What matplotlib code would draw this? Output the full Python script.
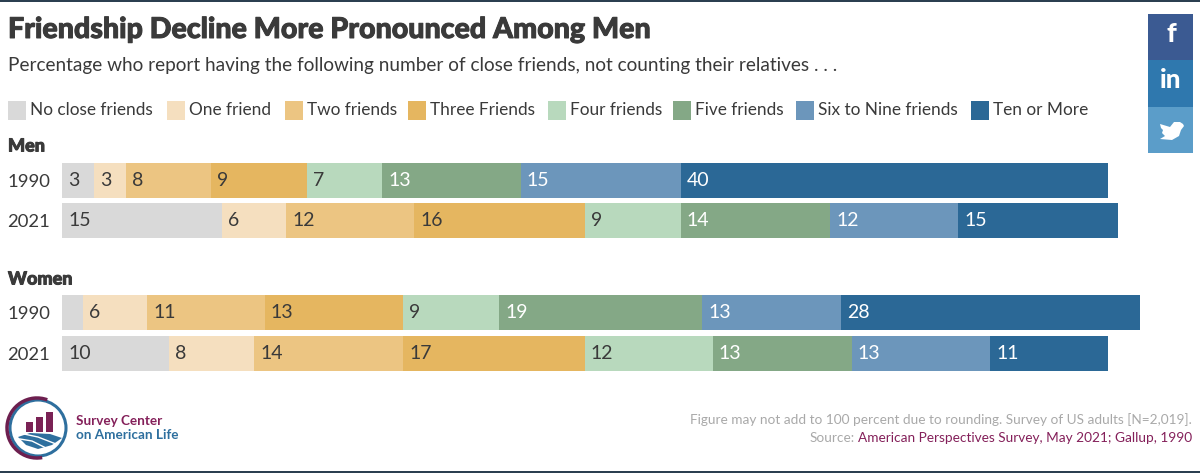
#!/usr/bin/env python3
import matplotlib
matplotlib.use("Agg")
import matplotlib.patheffects as pe
import matplotlib.pyplot as plt
from matplotlib.patches import Arc, Circle, Polygon, Rectangle

W, H = 1200, 473
PX = 72 / 100  # pixels to points at dpi=100

plt.rcParams["font.family"] = ["Lato", "DejaVu Sans"]

# --- data ---
CATEGORIES = ["No close friends", "One friend", "Two friends", "Three Friends",
              "Four friends", "Five friends", "Six to Nine friends", "Ten or More"]
MEN_1990 = [3, 3, 8, 9, 7, 13, 15, 40]
MEN_2021 = [15, 6, 12, 16, 9, 14, 12, 15]
WOMEN_1990 = [2, 6, 11, 13, 9, 19, 13, 28]  # first one is not labelled, read from its width
WOMEN_2021 = [10, 8, 14, 17, 12, 13, 13, 11]
ROWS = [MEN_1990, MEN_2021, WOMEN_1990, WOMEN_2021]
ROW_LABELS = ["1990", "2021", "1990", "2021"]
GROUPS = ["Men", "Women"]

COLORS = ["#d9d9d9", "#f5dfbf", "#ecc582", "#e5b660",
          "#b8d9bd", "#84a886", "#6c96bb", "#2b6896"]
LABEL_COLORS = ["#3a3a3a"] * 5 + ["white"] * 3
TEXT = "#3a3a3a"
MAROON = "#84205a"
BLUE = "#2e6f9e"

fig = plt.figure(figsize=(W / 100, H / 100), dpi=100, facecolor="white")

# furniture layer, in image pixels
bg = fig.add_axes([0, 0, 1, 1])
bg.set_xlim(0, W)
bg.set_ylim(H, 0)
bg.axis("off")

bg.add_patch(Rectangle((0, 0), W, 2, color="#2b3f50", lw=0))
bg.add_patch(Rectangle((0, 471), W, 2, color="#2b3f50", lw=0))

# Lato bold is lighter than the original face, so thicken the title a little
heavy = [pe.withStroke(linewidth=0.7, foreground=TEXT)]
bg.text(8, 30, "Friendship Decline More Pronounced Among Men", fontsize=28.6 * PX,
        fontweight="black", color=TEXT, va="center", ha="left", path_effects=heavy)
bg.text(8, 65, "Percentage who report having the following number of close friends, "
        "not counting their relatives . . .", fontsize=19 * PX, color=TEXT, va="center")

# --- legend ---
SWATCH_X = [8, 167, 285, 408, 548, 673, 796, 971]
for x, name, c in zip(SWATCH_X, CATEGORIES, COLORS):
    bg.add_patch(Rectangle((x, 101), 18, 19, color=c, lw=0))
    bg.text(x + 22, 110, name, fontsize=17.3 * PX, color=TEXT, va="center")

bg.text(8, 146, GROUPS[0], fontsize=18 * PX, fontweight="black", color=TEXT, va="center",
        path_effects=heavy)
bg.text(8, 279, GROUPS[1], fontsize=18 * PX, fontweight="black", color=TEXT, va="center",
        path_effects=heavy)

# --- bars ---
PX_PER_UNIT = 10.67
ax = fig.add_axes([62 / W, 1 - 380 / H, 1100 / W, 230 / H])
ax.set_xlim(0, 1100 / PX_PER_UNIT)
ax.set_ylim(380, 150)
ax.patch.set_alpha(0)
for s in ax.spines.values():
    s.set_visible(False)
ROW_Y = [180.5, 220.5, 312.5, 353]
for y, row in zip(ROW_Y, ROWS):
    left = 0
    for val, c, lc in zip(row, COLORS, LABEL_COLORS):
        ax.barh(y, val, left=left, height=35, color=c, lw=0)
        if val > 2:
            ax.annotate(str(val), (left, y), xytext=(6 * PX, 0), textcoords="offset points",
                        fontsize=19.5 * PX, color=lc, va="center", ha="left")
        left += val
ax.set_xticks([])
ax.set_yticks(ROW_Y, ROW_LABELS)
ax.tick_params(axis="y", length=0, pad=12 * PX, labelsize=18.5 * PX, labelcolor=TEXT)

# --- share buttons ---
bg.add_patch(Rectangle((1148, 14), 45, 46, color="#3b5a92", lw=0))
bg.add_patch(Rectangle((1148, 60), 45, 47, color="#2f78ae", lw=0))
bg.add_patch(Rectangle((1148, 107), 45, 46, color="#5b9dc9", lw=0))
bg.text(1171, 34, "f", fontsize=27 * PX, fontweight="black", color="white", ha="center", va="center")
bg.text(1171, 80, "in", fontsize=26 * PX, fontweight="black", color="white", ha="center", va="center")
bg.add_patch(Polygon([(1160, 124), (1170, 127), (1174, 122), (1180, 122), (1183, 124),
                      (1184, 126), (1181, 130), (1179, 136), (1172, 140), (1160, 139),
                      (1165, 136), (1162, 133), (1163, 130), (1161, 128)],
                     color="white", lw=0))

# --- logo ---
bg.add_patch(Circle((38, 428), 28, fc="none", ec=BLUE, lw=2.2))
bg.add_patch(Arc((37, 428), 60, 60, theta1=80, theta2=290, color="#6d1f4f", lw=2.5))
for x, top in [(26, 422), (36, 417), (46, 412)]:
    bg.add_patch(Rectangle((x, top), 7, 432 - top, color="#7a2255", lw=0))
bg.add_patch(Polygon([(18, 437), (30, 433), (50, 434), (62, 438), (52, 445), (38, 449), (26, 445)],
                     color=BLUE, lw=0))
bg.plot([24, 38, 56], [434, 437, 444], color="white", lw=1)
bg.plot([20, 32, 46], [439, 441, 448], color="white", lw=1)
bg.text(76, 421, "Survey Center", fontsize=13.5 * PX, fontweight="bold", color=MAROON, va="center")
bg.text(76, 434.5, "on American Life", fontsize=13.5 * PX, fontweight="bold", color=BLUE, va="center")

# --- footer ---
bg.text(1192, 420, "Figure may not add to 100 percent due to rounding. Survey of US adults [N=2,019].",
        fontsize=13.6 * PX, color="#a9a9a9", ha="right", va="center")
bg.text(1192, 438, "American Perspectives Survey, May 2021; Gallup, 1990",
        fontsize=13.6 * PX, color=MAROON, ha="right", va="center")
bg.text(855, 438, "Source:", fontsize=13.6 * PX, color="#a9a9a9", ha="right", va="center")

fig.savefig("out.png", dpi=100, facecolor="white")
